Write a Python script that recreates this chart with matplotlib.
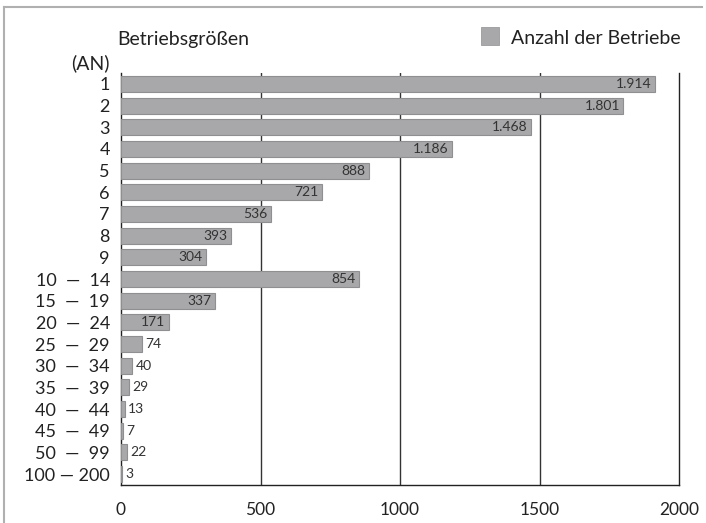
import matplotlib
matplotlib.use("Agg")
import matplotlib.pyplot as plt
from matplotlib.patches import Rectangle
from matplotlib.lines import Line2D

categories = ["1", "2", "3", "4", "5", "6", "7", "8", "9",
              "10  —  14", "15  —  19", "20  —  24", "25  —  29", "30  —  34",
              "35  —  39", "40  —  44", "45  —  49", "50  —  99", "100 — 200"]
values = [1914, 1801, 1468, 1186, 888, 721, 536, 393, 304,
          854, 337, 171, 74, 40, 29, 13, 7, 22, 3]
x_ticks = [0, 500, 1000, 1500, 2000]

plt.rcParams['font.family'] = ['Lato', 'DejaVu Sans']

fig = plt.figure(figsize=(7.06, 5.23), dpi=100)
W, H = 706, 523
ax = fig.add_axes([121 / W, 1 - 485 / H, (679 - 121) / W, (485 - 73) / H])

n = len(categories)
ypos = list(range(n))
ax.barh(ypos, values, height=0.74, color="#a8a8aa", edgecolor="#8f8f91",
        linewidth=0.8, zorder=3)
ax.set_ylim(n - 0.5, -0.5)
ax.set_xlim(0, 2000)
ax.set_yticks(ypos)
ax.set_yticklabels(categories, fontsize=13, color="#222222")
ax.set_xticks(x_ticks)
ax.set_xticklabels([str(t) for t in x_ticks], fontsize=12.5, color="#222222")
ax.tick_params(length=0)
ax.tick_params(axis='y', pad=8)
ax.tick_params(axis='x', pad=12)
for t in x_ticks[1:4]:
    ax.axvline(t, color="#333333", linewidth=1.0, zorder=1)
ax.spines["top"].set_visible(False)
for s in ["left", "bottom", "right"]:
    ax.spines[s].set_color("#222222")
    ax.spines[s].set_linewidth(1.0)

for y, v in zip(ypos, values):
    lab = f"{v:,}".replace(",", ".")
    if v >= 150:
        ax.text(v - 12, y, lab, ha="right", va="center", fontsize=10,
                color="#333333", zorder=4)
    else:
        ax.text(v + 12, y, lab, ha="left", va="center", fontsize=10,
                color="#333333", zorder=4)

fig.text(117 / W, 1 - 40 / H, "Betriebsgrößen", ha="left", va="center",
         fontsize=14, color="#222222")
fig.text(110 / W, 1 - 63 / H, "(AN)", ha="right", va="center",
         fontsize=14, color="#222222")
fig.patches.append(Rectangle((481 / W, 1 - 45 / H), 18 / W, 18 / H,
                             transform=fig.transFigure, facecolor="#a8a8aa",
                             edgecolor="#9a9a9c", linewidth=0.6))
fig.text(511 / W, 1 - 38 / H, "Anzahl der Betriebe", ha="left", va="center",
         fontsize=14, color="#222222")

# outer frame (left and top)
fig.lines.append(Line2D([4 / W, 4 / W], [0, 1 - 7 / H], transform=fig.transFigure,
                        color="#b0b0b0", linewidth=1.5))
fig.lines.append(Line2D([4 / W, 702 / W], [1 - 7 / H, 1 - 7 / H],
                        transform=fig.transFigure, color="#b0b0b0", linewidth=1.5))

fig.savefig("out.png", dpi=100)
